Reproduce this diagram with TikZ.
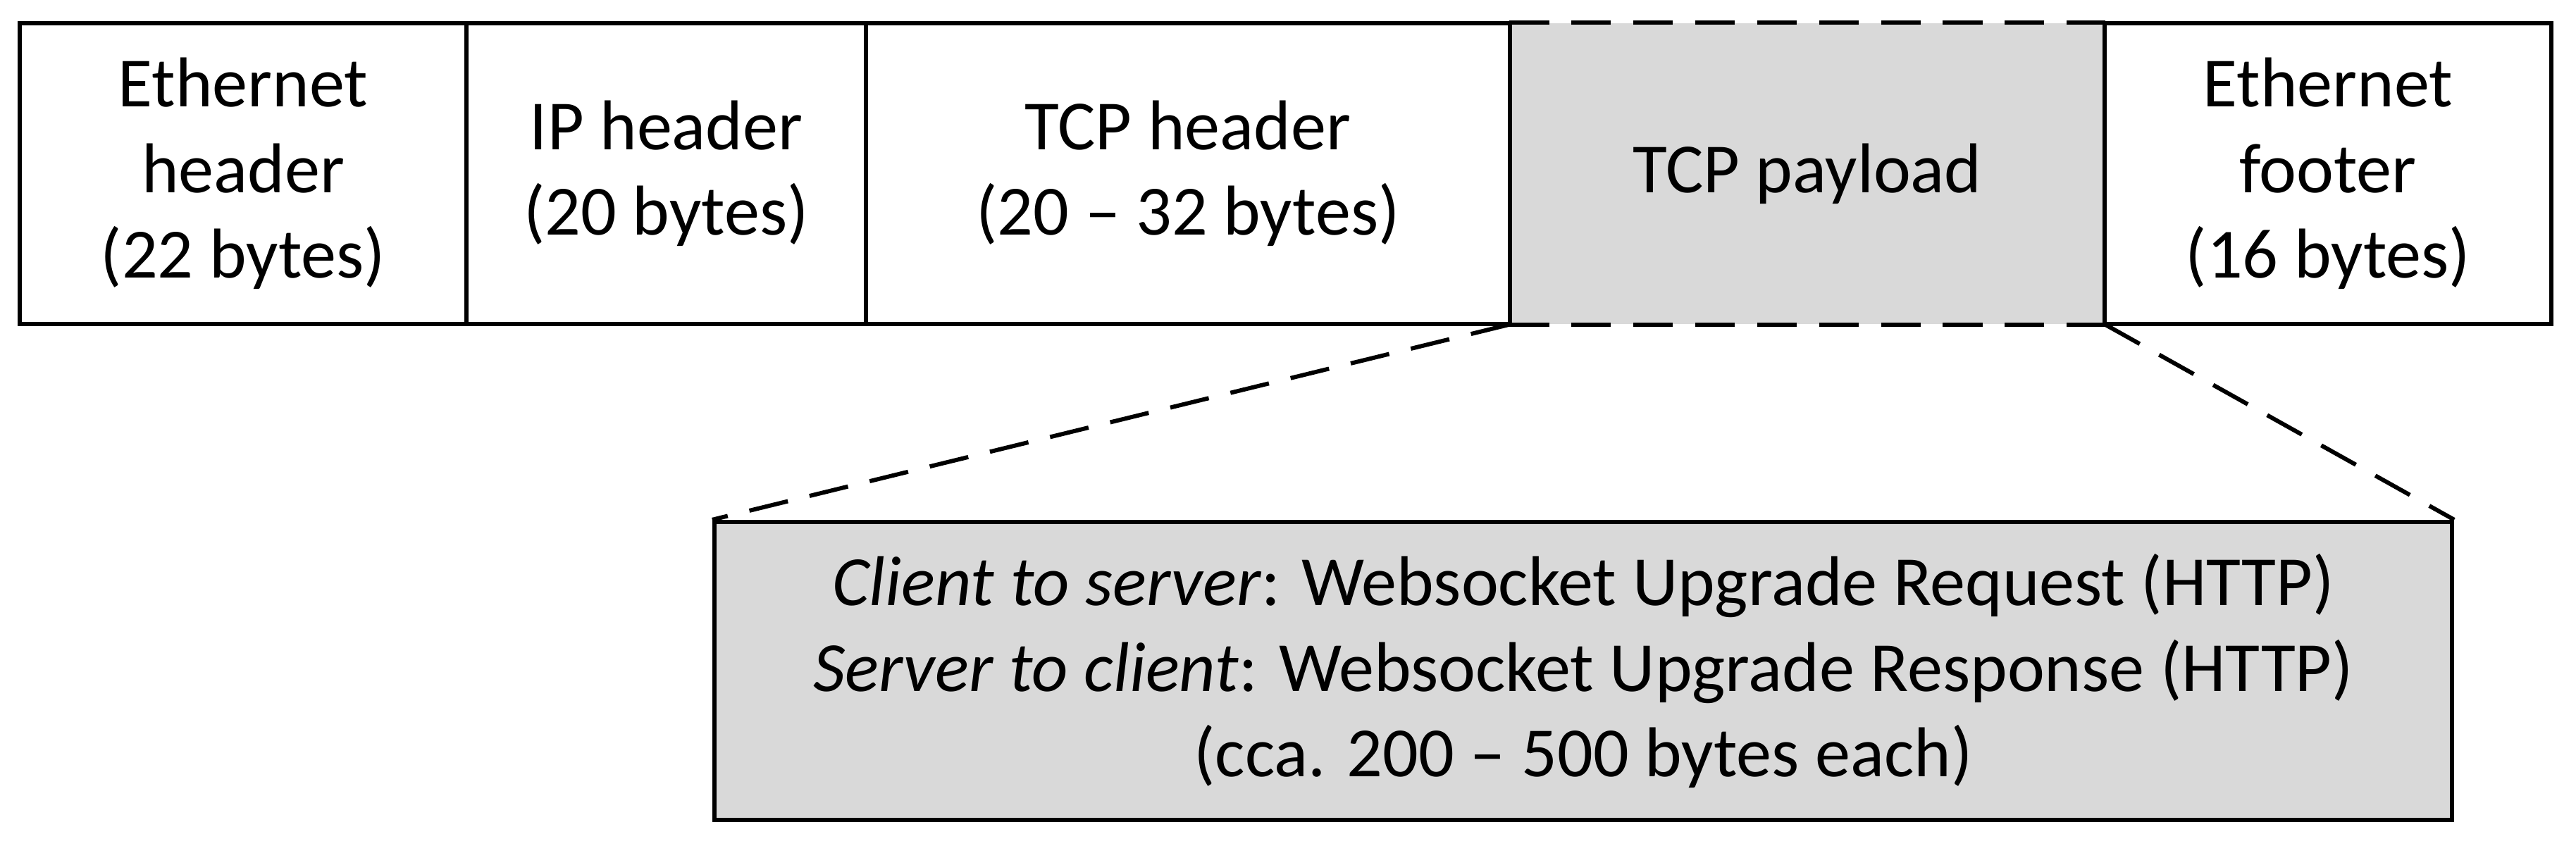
\documentclass[tikz,border=0pt]{standalone}
\usepackage{fontspec}
\setmainfont{Carlito}
\definecolor{boxgray}{RGB}{217,217,217}
\begin{document}
\begin{tikzpicture}[
  txt/.style={font=\fontsize{28.5}{34.5}\selectfont, align=center, text=black},
  cell/.style={txt, rectangle, draw=black, line width=1.8pt, inner sep=0pt, minimum height=4.27cm},
  paycell/.style={txt, rectangle, fill=boxgray, inner sep=0pt, minimum height=4.27cm},
  detail/.style={txt, rectangle, draw=black, fill=boxgray, line width=1.8pt, inner sep=0pt, minimum width=24.66cm, minimum height=4.23cm},
  dashline/.style={draw=black, line width=1.7pt, dash pattern=on 16pt off 9pt},
  sideline/.style={draw=black, line width=1.1pt}
]
\useasboundingbox (0,0) rectangle (36.56,-12);
\fill[white] (0,0) rectangle (36.56,-12);

\node[paycell, minimum width=8.44cm] (pl) at (25.65,-2.465) {TCP payload};
\node[cell, minimum width=6.34cm] (eh) at (3.45,-2.465) {Ethernet\\header\\(22 bytes)};
\node[cell, minimum width=5.67cm] (ip) at (9.455,-2.465) {IP header\\(20 bytes)};
\node[cell, minimum width=9.14cm] (tcp) at (16.86,-2.465) {TCP header\\(20 -- 32 bytes)};
\node[cell, minimum width=6.34cm] (ef) at (33.04,-2.465) {Ethernet\\footer\\(16 bytes)};

\draw[dashline] (pl.north west) -- (pl.north east);
\draw[dashline] (pl.south west) -- (pl.south east);

\node[detail] (det) at (22.47,-9.525) {\textit{Client to server}: Websocket Upgrade Request (HTTP)\\\textit{Server to client}: Websocket Upgrade Response (HTTP)\\(cca. 200 -- 500 bytes each)};

\draw[dashline] (pl.south west) -- (det.north west);
\draw[dashline] (pl.south east) -- (det.north east);
\end{tikzpicture}
\end{document}
